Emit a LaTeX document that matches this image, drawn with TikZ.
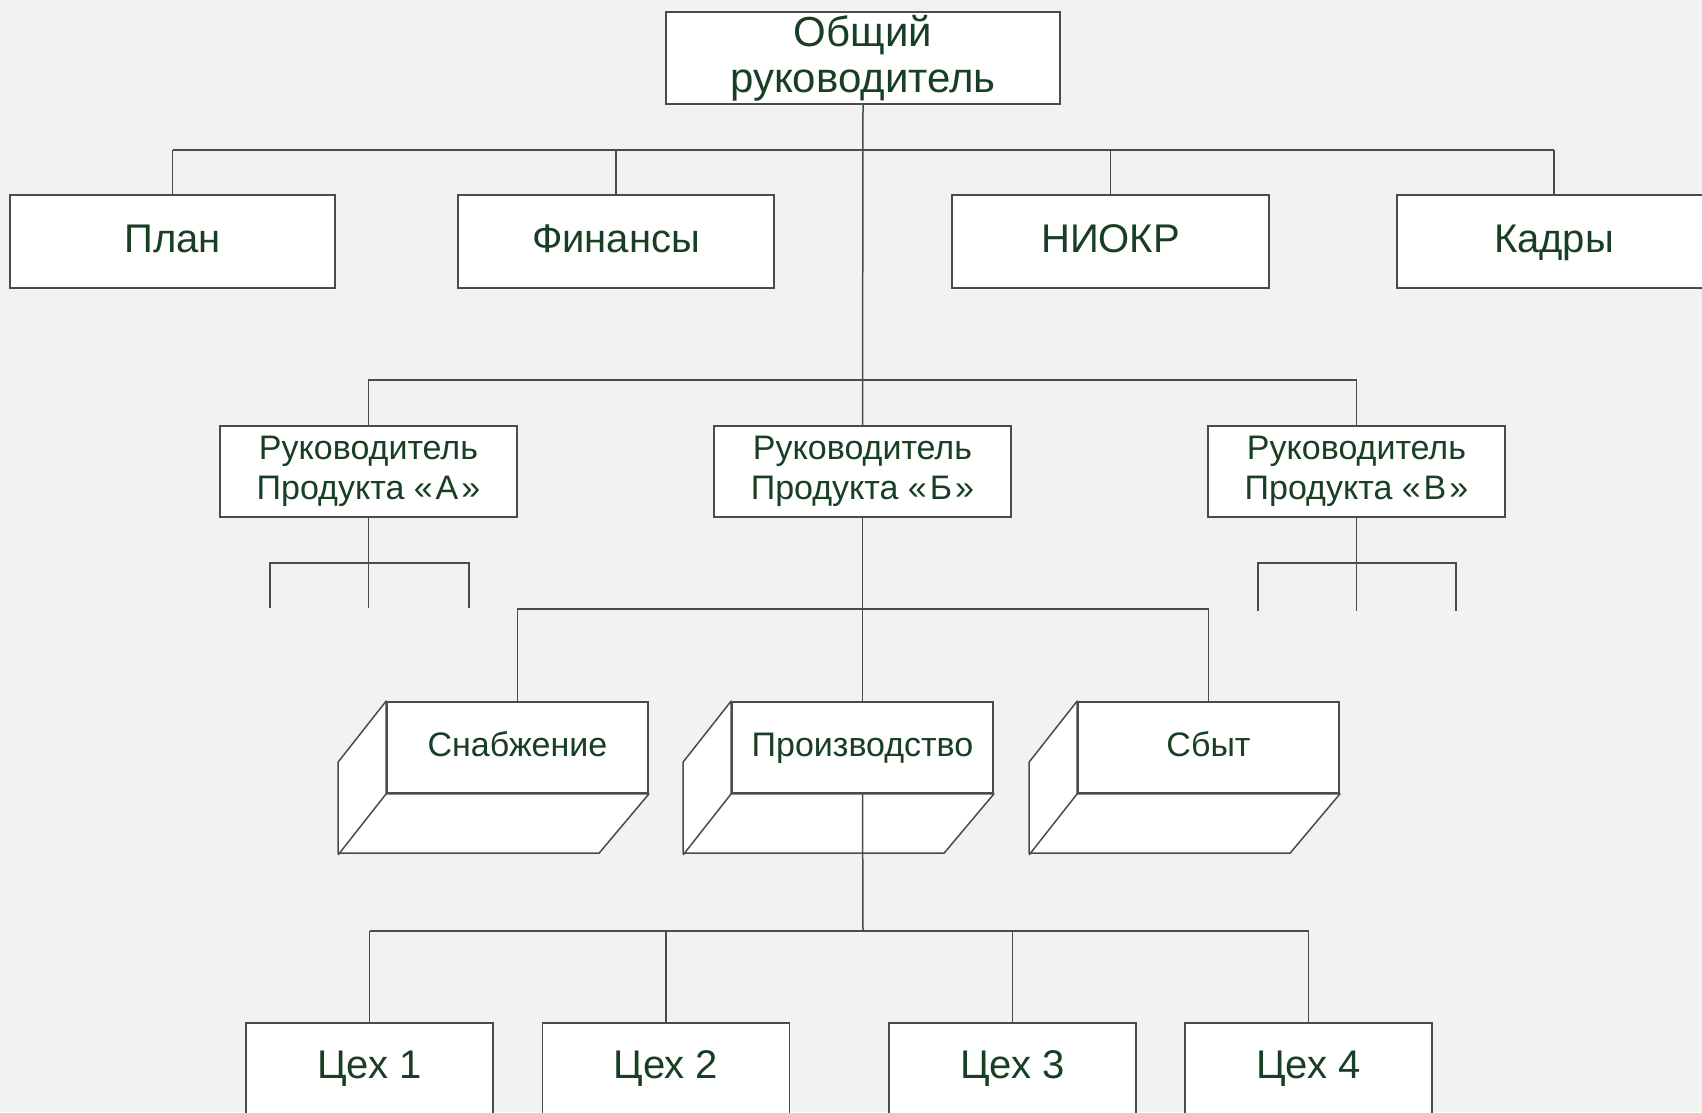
\documentclass[tikz,border=0pt]{standalone}
\usepackage{fontspec}
\setmainfont{Liberation Sans}
\usetikzlibrary{positioning}
\definecolor{linegray}{RGB}{72,76,74}
\definecolor{textgreen}{RGB}{24,62,36}
\definecolor{paper}{RGB}{242,242,241}
\tikzset{
	unit/.style={draw=linegray, line width=1.8pt, fill=white, text=textgreen, inner sep=0pt, align=center},
	big/.style={font=\fontsize{40}{44}\selectfont},
	mid/.style={font=\fontsize{34}{40}\selectfont},
	oneline/.style={text height=30pt, text depth=30pt},
	staffline/.style={text height=35pt, text depth=14pt},
	slabline/.style={text height=30pt, text depth=12pt},
	link/.style={draw=linegray, line width=1.5pt},
}
\newcommand{\gq}[1]{«\kern3pt#1\kern3pt»}
\begin{document}
\begin{tikzpicture}[x=1pt, y=-1pt]
	\useasboundingbox (0,0) rectangle (1702,1112);
	\fill[paper] (0,0) rectangle (1702,1112);
	\clip (0,0) rectangle (1702,1112);
	% top
	\node[unit, minimum width=394pt, minimum height=92pt, font=\fontsize{42}{46}\selectfont] (boss) at (863,58) {Общий\\руководитель};
	% staff units
	\node[unit, big, staffline, minimum width=325pt, minimum height=93pt] (plan) at (172.5,241.5) {План};
	\node[unit, big, staffline, minimum width=316pt, minimum height=93pt] (fin) at (616,241.5) {Финансы};
	\node[unit, big, staffline, minimum width=317pt, minimum height=93pt] (niokr) at (1110.5,241.5) {НИОКР};
	\node[unit, big, staffline, minimum width=314pt, minimum height=93pt] (kadry) at (1554,241.5) {Кадры};
	\coordinate (bus1) at (863,150);
	\draw[link] (plan.north |- bus1) -- (kadry.north |- bus1);
	\foreach \n in {plan,fin,niokr,kadry}{%
		\draw[link] (\n.north |- bus1) -- (\n.north);
		}
	% product managers
	\node[unit, mid, minimum width=297pt, minimum height=91pt] (rukA) at (368.5,471.5) {Руководитель\\Продукта \gq{А}};
	\node[unit, mid, minimum width=297pt, minimum height=91pt] (rukB) at (862.5,471.5) {Руководитель\\Продукта \gq{Б}};
	\node[unit, mid, minimum width=297pt, minimum height=91pt] (rukV) at (1356.5,471.5) {Руководитель\\Продукта \gq{В}};
	\draw[link] (boss.south) -- (rukB.north);
	\coordinate (bus2) at (863,380);
	\draw[link] (rukA.north) |- (bus2) -| (rukV.north);
	% open stubs
	\coordinate (aL) at (270,608);
	\coordinate (aR) at (469,608);
	\coordinate (vL) at (1258,611);
	\coordinate (vR) at (1456,611);
	\draw[link] (rukA.south) -- (rukA.south |- aL);
	\draw[link] (aL) -- ++(0,-45) -| (aR);
	\draw[link] (rukV.south) -- (rukV.south |- vL);
	\draw[link] (vL) -- ++(0,-48) -| (vR);
	% functions (slabs)
	\node[unit, mid, slabline, minimum width=261pt, minimum height=91pt] (snab) at (517.5,747.5) {Снабжение};
	\node[unit, mid, slabline, minimum width=261pt, minimum height=91pt] (prod) at (862.5,747.5) {Производство};
	\node[unit, mid, slabline, minimum width=261pt, minimum height=91pt] (sbyt) at (1208.5,747.5) {Сбыт};
	\foreach \n in {snab,prod,sbyt}{%
		\filldraw[link, fill=white, line join=round] (\n.north west) -- ++(-48,61) -- ++(0,91) -- ++(261,0) -- (\n.south east) -- (\n.south west) -- cycle;
		\draw[link] (\n.south west) -- ++(-48,61);
		}
	\coordinate (bus3) at (863,609);
	\draw[link] (rukB.south) -- (prod.north);
	\draw[link] (snab.north) |- (bus3) -| (sbyt.north);
	% workshops
	\node[unit, big, oneline, minimum width=247pt, minimum height=110pt] (ceh1) at (369.5,1078) {Цех 1};
	\node[unit, big, oneline, minimum width=247pt, minimum height=110pt] (ceh2) at (666,1078) {Цех 2};
	\node[unit, big, oneline, minimum width=247pt, minimum height=110pt] (ceh3) at (1012.5,1078) {Цех 3};
	\node[unit, big, oneline, minimum width=247pt, minimum height=110pt] (ceh4) at (1308.5,1078) {Цех 4};
	\coordinate (bus4) at (863,931);
	\draw[link] (prod.south) -- (bus4);
	\draw[link] (ceh1.north |- bus4) -- (ceh4.north |- bus4);
	\foreach \n in {ceh1,ceh2,ceh3,ceh4}{%
		\draw[link] (\n.north |- bus4) -- (\n.north);
		}
\end{tikzpicture}
\end{document}
